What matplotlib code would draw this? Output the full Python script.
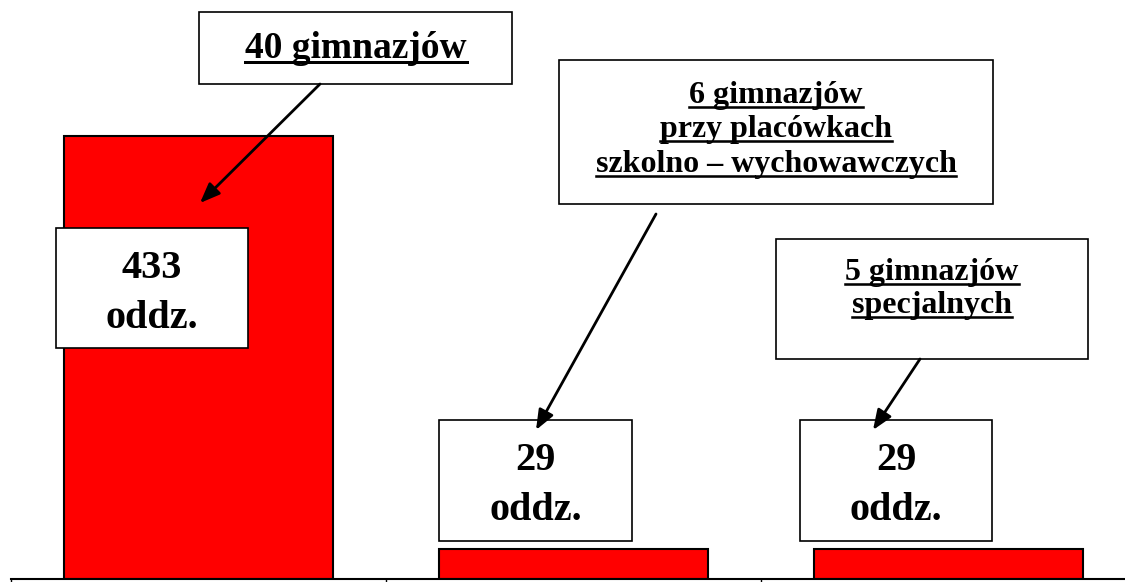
import matplotlib
matplotlib.use("Agg")
import matplotlib.pyplot as plt
from matplotlib.patches import Rectangle, FancyArrowPatch
from matplotlib.lines import Line2D

# data
categories = ["gimnazja", "gimnazja przy placówkach", "gimnazja specjalne"]
oddzialy = [433, 29, 29]
callouts = [
    ["40 gimnazjów"],
    ["6 gimnazjów", "przy placówkach", "szkolno – wychowawczych"],
    ["5 gimnazjów", "specjalnych"],
]
value_suffix = "oddz."

W, H = 1125, 582
plt.rcParams["font.family"] = ["Liberation Serif", "DejaVu Serif"]

fig = plt.figure(figsize=(W / 100, H / 100), dpi=100)
# axes runs from x=11px to past the right edge, baseline at y=579px
ax = fig.add_axes([11 / W, 3 / H, 1125 / W, 578 / H])
x = range(len(categories))
ax.bar(x, oddzialy, width=0.717, color="#ff0000", edgecolor="black", linewidth=1.5)
ax.set_xlim(-0.5, 2.5)
ax.set_ylim(0, 565)
for s in ["top", "left", "right"]:
    ax.spines[s].set_visible(False)
ax.spines["bottom"].set_linewidth(1.5)
ax.set_yticks([])
ax.set_xticks([-0.5, 0.5, 1.5, 2.5])
ax.set_xticklabels([])
ax.tick_params(axis="x", direction="out", length=3, width=1)


def px(xp, yp):
    # image pixel -> figure fraction
    return xp / W, 1 - yp / H


def box(x0, y0, x1, y1):
    fig.patches.append(Rectangle(px(x0, y1), (x1 - x0) / W, (y1 - y0) / H,
                                 transform=fig.transFigure, facecolor="white",
                                 edgecolor="black", linewidth=1.2, zorder=3))


def arrow(a, b):
    fig.patches.append(FancyArrowPatch(px(*a), px(*b), transform=fig.transFigure,
                                       arrowstyle="-|>,head_length=0.55,head_width=0.22",
                                       mutation_scale=22,
                                       color="black", linewidth=2, zorder=4,
                                       shrinkA=0, shrinkB=0))


renderer = fig.canvas.get_renderer()


def lines_text(cx, baselines, lines, size, underline=False):
    for yb, s in zip(baselines, lines):
        t = fig.text(*px(cx, yb), s, ha="center", va="baseline", fontsize=size,
                     fontweight="bold", zorder=5)
        if underline:
            bb = t.get_window_extent(renderer)
            yu = yb + size * 0.16
            fig.lines.append(Line2D([bb.x0 / W, bb.x1 / W], [1 - yu / H, 1 - yu / H],
                                    transform=fig.transFigure, color="black",
                                    linewidth=size * 0.08, zorder=5))


# callout boxes
box(199, 12, 512, 84)
lines_text(356, [58], callouts[0], 27, underline=True)
box(559, 60, 993, 204)
lines_text(776, [103, 137, 172], callouts[1], 23, underline=True)
box(776, 239, 1088, 359)
lines_text(932, [280, 313], callouts[2], 23, underline=True)

# value boxes
vboxes = [(56, 228, 248, 348), (439, 420, 632, 541), (800, 420, 992, 541)]
for (x0, y0, x1, y1), v in zip(vboxes, oddzialy):
    box(x0, y0, x1, y1)
    lines_text((x0 + x1) / 2, [y0 + 50, y0 + 100], [str(v), value_suffix], 29)

arrow((320, 84), (200, 203))
arrow((656, 214), (536, 430))
arrow((920, 359), (873, 430))

fig.savefig("out.png", dpi=100)
